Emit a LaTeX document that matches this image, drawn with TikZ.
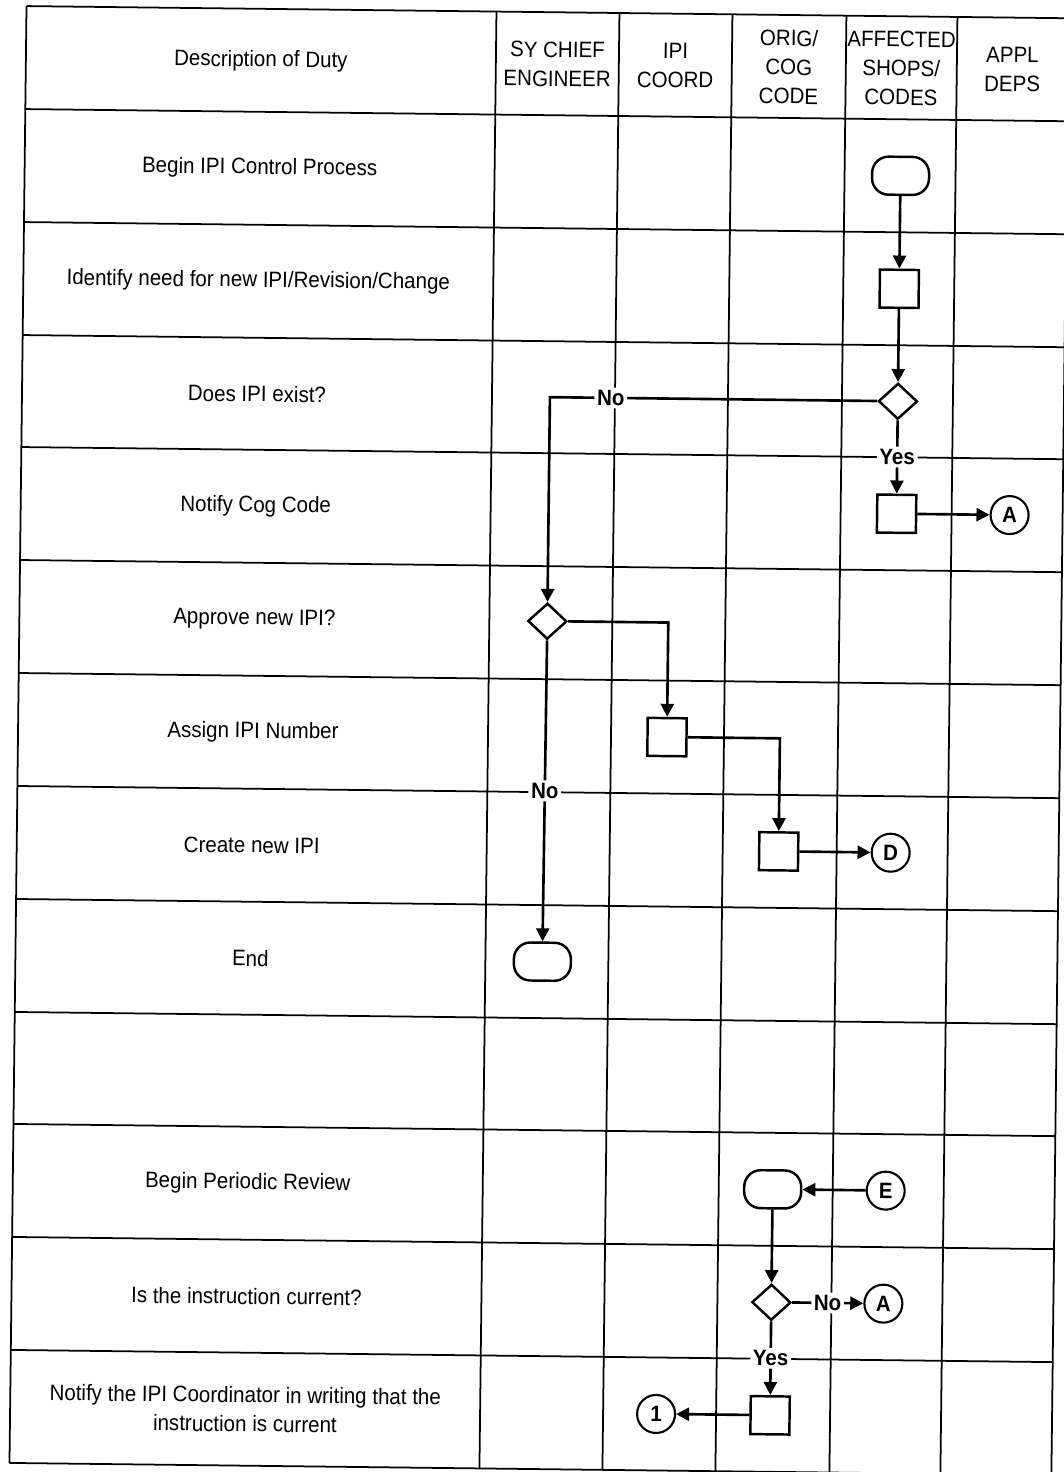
\documentclass[tikz,border=0pt]{standalone}
\usepackage{fontspec}
\setmainfont{Liberation Sans}[FakeStretch=0.92]
\usetikzlibrary{arrows.meta,shapes.geometric}

\begin{document}
\begin{tikzpicture}[x=0.02cm, y=-0.02cm,
        txt/.style={font=\fontsize{12.7pt}{16.5pt}\selectfont, align=center},
        lbl/.style={font=\fontsize{12.7pt}{16.5pt}\selectfont\bfseries, fill=white, inner sep=1.5pt},
        gridline/.style={line width=1pt},
        terminal/.style={draw, line width=1.4pt, rounded corners=3.3mm, minimum width=11.4mm, minimum height=7.6mm, inner sep=0pt},
        proc/.style={draw, line width=1.4pt, minimum width=7.8mm, minimum height=7.6mm, inner sep=0pt},
        decision/.style={draw, diamond, line width=1.4pt, minimum width=7.8mm, minimum height=7.2mm, inner sep=0pt},
        conn/.style={draw, circle, line width=1.2pt, minimum size=7.6mm, inner sep=0pt, font=\fontsize{12.7pt}{16.5pt}\selectfont\bfseries},
        flow/.style={line width=1.5pt, -{Triangle[length=7.4pt, width=7.4pt]}}]
    \useasboundingbox[fill=white] (0,0) rectangle (1064,1472);
    % the scanned sheet sits slightly askew
    \begin{scope}[rotate around={-0.67:(532,736)}, transform shape]
        % we draw the table grid
        \draw[gridline] (18,12) -- (1060,12)
            (18,115) -- (1060,115)
            (18,228) -- (1060,228)
            (18,341) -- (1060,341)
            (18,453) -- (1060,453)
            (18,566) -- (1060,566)
            (18,679) -- (1060,679)
            (18,792) -- (1060,792)
            (18,905) -- (1060,905)
            (18,1018) -- (1060,1018)
            (18,1130) -- (1060,1130)
            (18,1243) -- (1060,1243)
            (18,1356) -- (1060,1356)
            (18,1469) -- (1060,1469);
        \draw[gridline] (18,12) -- (18,1469)
            (488,12) -- (488,1469)
            (611,12) -- (611,1469)
            (724,12) -- (724,1469)
            (838,12) -- (838,1469)
            (949,12) -- (949,1469)
            (1060,12) -- (1060,1469);

        % header row
        \node[txt] (hdesc) at (253,64) {Description of Duty};
        \node[txt] (hchief) at (549.5,64) {SY CHIEF\\ENGINEER};
        \node[txt] (hcoord) at (667.5,64) {IPI\\COORD};
        \node[txt] (horig) at (781,64) {ORIG/\\COG\\CODE};
        \node[txt] (hshops) at (893.5,64) {AFFECTED\\SHOPS/\\CODES};
        \node[txt] (hdeps) at (1004.5,64) {APPL\\DEPS};

        % duties, one per row
        \node[txt] (duty1) at (253,171.5) {Begin IPI Control Process};
        \node[txt] (duty2) at (253,284.5) {Identify need for new IPI/Revision/Change};
        \node[txt] (duty3) at (253,397) {Does IPI exist?};
        \node[txt] (duty4) at (253,509.5) {Notify Cog Code};
        \node[txt] (duty5) at (253,622.5) {Approve new IPI?};
        \node[txt] (duty6) at (253,735.5) {Assign IPI Number};
        \node[txt] (duty7) at (253,848.5) {Create new IPI};
        \node[txt] (duty8) at (253,961.5) {End};
        \node[txt] (duty10) at (253,1186.5) {Begin Periodic Review};
        \node[txt] (duty11) at (253,1299.5) {Is the instruction current?};
        \node[txt] (duty12) at (253,1412.5) {Notify the IPI Coordinator in writing that the\\instruction is current};

        % control process shapes
        \node[terminal] (begin) at (894,171.5) {};
        \node[proc] (identify) at (894,284.5) {};
        \node[decision] (exists) at (894,397) {};
        \node[proc] (notify) at (894,509.5) {};
        \node[conn] (toA) at (1007,509.5) {A};
        \node[decision] (approve) at (546,621) {};
        \node[proc] (assign) at (667,735.5) {};
        \node[proc] (create) at (780,848.5) {};
        \node[conn] (toD) at (892,848.5) {D};
        \node[terminal] (finish) at (545,961.5) {};

        % periodic review shapes
        \node[terminal] (review) at (778,1186.5) {};
        \node[conn] (fromE) at (891,1186.5) {E};
        \node[decision] (current) at (778,1299.5) {};
        \node[conn] (toA2) at (890,1299.5) {A};
        \node[proc] (tell) at (778,1412.5) {};
        \node[conn] (to1) at (664,1412.5) {1};

        % we draw the flow lines
        \draw[flow] (begin) -- (identify);
        \draw[flow] (identify) -- (exists);
        \draw[flow] (exists.west) -| node[lbl, pos=0.407] {No} (approve.north);
        \draw[flow] (exists.south) -- node[lbl] {Yes} (notify.north);
        \draw[flow] (notify) -- (toA);
        \draw[flow] (approve.east) -| (assign.north);
        \draw[flow] (approve.south) -- node[lbl] {No} (finish.north);
        \draw[flow] (assign.east) -| (create.north);
        \draw[flow] (create) -- (toD);

        \draw[flow] (fromE) -- (review);
        \draw[flow] (review) -- (current);
        \draw[flow] (current.east) -- node[lbl] {No} (toA2.west);
        \draw[flow] (current.south) -- node[lbl] {Yes} (tell.north);
        \draw[flow] (tell) -- (to1);
    \end{scope}
\end{tikzpicture}
\end{document}
